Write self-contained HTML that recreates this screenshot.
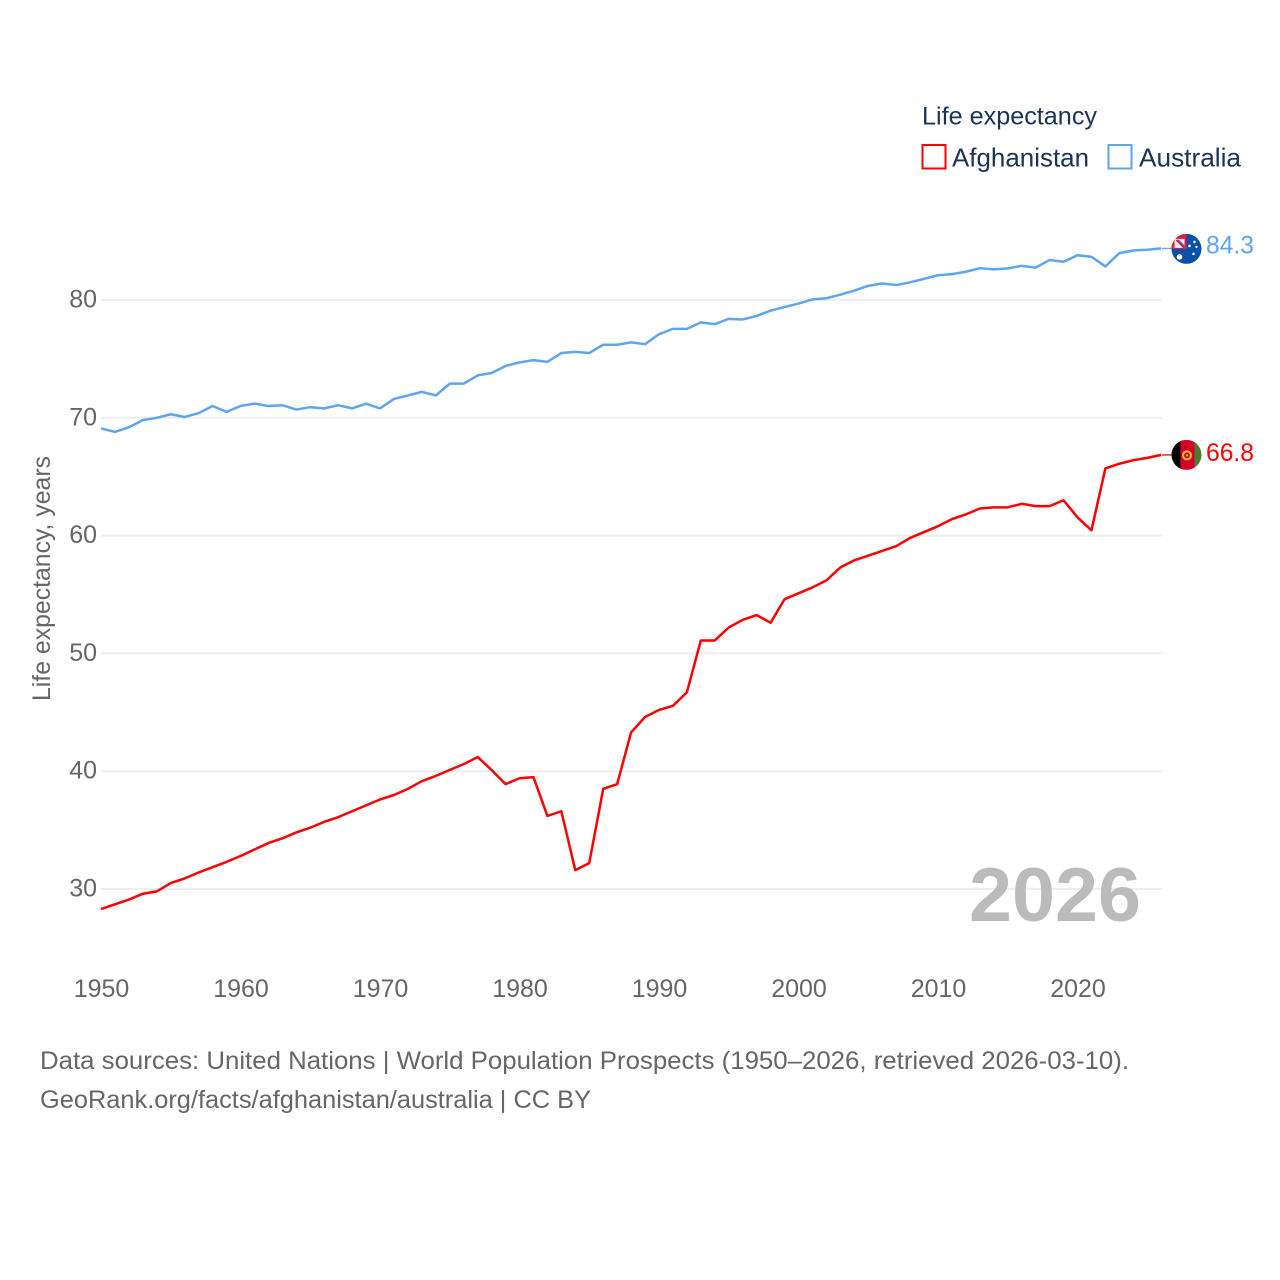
<!DOCTYPE html>
<html lang="en">
<head>
<meta charset="utf-8">
<title>Life expectancy: Afghanistan and Australia</title>
<style>
  html, body { margin: 0; padding: 0; background: #fff; }
  svg { display: block; font-family: "Liberation Sans", sans-serif; }
</style>
</head>
<body>
<svg id="chart" width="1280" height="1280" viewBox="0 0 1280 1280" xmlns="http://www.w3.org/2000/svg">
  <defs>
    <clipPath id="flag-clip"><circle cx="0" cy="0" r="15"></circle></clipPath>
  </defs>
  <rect width="1280" height="1280" fill="#fff"></rect>
  <g id="grid"></g>
  <g id="y-ticks"></g>
  <g id="x-ticks"></g>
  <text transform="translate(50 701) rotate(-90)" font-size="25" fill="#666" textLength="245" lengthAdjust="spacingAndGlyphs">Life expectancy, years</text>
  <text x="969" y="921" font-size="76" font-weight="700" fill="#bbbbbb" textLength="172" lengthAdjust="spacingAndGlyphs">2026</text>
  <g id="series"></g>

  <g id="flag-australia">
    <g clip-path="url(#flag-clip)">
      <rect x="-15" y="-15" width="30" height="30" fill="#0a4fa8"></rect>
      <rect x="-15" y="-15" width="15" height="15" fill="#e8173a"></rect>
      <rect x="-12" y="-10" width="10" height="9" fill="#f3f0f3"></rect>
      <path d="M-10 -9 L-2 -1" stroke="#d0203f" stroke-width="2.2"></path>
      <path d="M-8 -9 L-1 -2" stroke="#5b79b8" stroke-width="1.2"></path>
      <circle cx="-7" cy="8" r="2.8" fill="#fff"></circle>
      <circle cx="3" cy="-3" r="1.3" fill="#fff"></circle>
      <circle cx="8" cy="-7" r="1.3" fill="#fff"></circle>
      <circle cx="10" cy="-2" r="1.2" fill="#fff"></circle>
      <circle cx="7" cy="5" r="1.3" fill="#fff"></circle>
    </g>
  </g>
  <g id="flag-afghanistan">
    <g clip-path="url(#flag-clip)">
      <rect x="-15" y="-15" width="10" height="30" fill="#000"></rect>
      <rect x="-6" y="-15" width="14" height="30" fill="#d3002a"></rect>
      <rect x="8" y="-15" width="8" height="30" fill="#4b7b2f"></rect>
      <circle cx="0.5" cy="0.5" r="4" fill="none" stroke="#f0b429" stroke-width="2.2"></circle>
      <circle cx="0.5" cy="0.5" r="1.2" fill="#e9a12b"></circle>
    </g>
  </g>
  <g id="end-labels"></g>

  <g>
    <text x="922" y="124.5" font-size="25" fill="#1b3355" textLength="175" lengthAdjust="spacingAndGlyphs">Life expectancy</text>
    <g>
      <rect x="922.5" y="145" width="23" height="23.5" fill="#fff" stroke="#ff0000" stroke-width="2"></rect>
      <text x="952" y="166.5" font-size="26" fill="#1b3355" textLength="137" lengthAdjust="spacingAndGlyphs">Afghanistan</text>
    </g>
    <g>
      <rect x="1108.5" y="145" width="23" height="23.5" fill="#fff" stroke="#5da5ee" stroke-width="2"></rect>
      <text x="1139" y="166.5" font-size="26" fill="#1b3355" textLength="102" lengthAdjust="spacingAndGlyphs">Australia</text>
    </g>
  </g>

  <text x="40" y="1069" font-size="25" fill="#666" textLength="1089" lengthAdjust="spacingAndGlyphs">Data sources: United Nations | World Population Prospects (1950–2026, retrieved 2026-03-10).</text>
  <text x="40" y="1108" font-size="25" fill="#666" textLength="551" lengthAdjust="spacingAndGlyphs">GeoRank.org/facts/afghanistan/australia | CC BY</text>
</svg>
<script>
const firstYear = 1950;
const yTickValues = [30, 40, 50, 60, 70, 80];
const xTickValues = [1950, 1960, 1970, 1980, 1990, 2000, 2010, 2020];
const afghanistanValues = [
  28.3, 28.7, 29.1, 29.6, 29.8, 30.5, 30.9, 31.4, 31.85, 32.3,
  32.8, 33.35, 33.9, 34.3, 34.8, 35.2, 35.7, 36.1, 36.6, 37.1,
  37.6, 37.98, 38.5, 39.15, 39.6, 40.1, 40.6, 41.2, 40.1, 38.9,
  39.4, 39.5, 36.2, 36.6, 31.6, 32.2, 38.5, 38.9, 43.3, 44.6,
  45.2, 45.55, 46.7, 51.1, 51.1, 52.2, 52.85, 53.25, 52.6, 54.6,
  55.1, 55.6, 56.2, 57.3, 57.9, 58.3, 58.7, 59.1, 59.8, 60.3,
  60.8, 61.4, 61.8, 62.3, 62.4, 62.4, 62.7, 62.5, 62.5, 63.0,
  61.55, 60.45, 65.7, 66.1, 66.4, 66.6, 66.85
];
const australiaValues = [
  69.1, 68.8, 69.2, 69.8, 70.0, 70.3, 70.07, 70.4, 71.0, 70.5,
  71.0, 71.2, 71.0, 71.07, 70.7, 70.9, 70.8, 71.07, 70.8, 71.2,
  70.8, 71.6, 71.9, 72.2, 71.9, 72.9, 72.9, 73.6, 73.8, 74.4,
  74.7, 74.9, 74.75, 75.5, 75.6, 75.5, 76.2, 76.2, 76.4, 76.25,
  77.1, 77.55, 77.55, 78.1, 77.95, 78.4, 78.35, 78.65, 79.1, 79.4,
  79.7, 80.05, 80.15, 80.45, 80.8, 81.2, 81.4, 81.27, 81.5, 81.8,
  82.1, 82.2, 82.4, 82.7, 82.6, 82.68, 82.9, 82.75, 83.4, 83.25,
  83.8, 83.67, 82.85, 83.98, 84.2, 84.27, 84.38
];
const afghanistanLabel = "66.8";
const australiaLabel = "84.3";

const NS = "http://www.w3.org/2000/svg";
const RED = "#ff0000";
const BLUE = "#5da5ee";
const PLOT_RIGHT = 1162;
const LEADER_END = 1172;

function xScale(year) { return 101 + (year - firstYear) * 13.95; }
function yScale(value) { return 889 - (value - 30) * 11.78; }
function make(tag, parent) {
  const el = document.createElementNS(NS, tag);
  parent.appendChild(el);
  return el;
}

const gridGroup = document.getElementById("grid");
const yTickGroup = document.getElementById("y-ticks");
const xTickGroup = document.getElementById("x-ticks");
const seriesGroup = document.getElementById("series");
const labelGroup = document.getElementById("end-labels");

yTickValues.forEach(function (v) {
  const line = make("line", gridGroup);
  
  
  line.setAttribute("x1", 101);
  line.setAttribute("x2", PLOT_RIGHT);
  line.setAttribute("y1", yScale(v));
  line.setAttribute("y2", yScale(v));
  line.setAttribute("stroke", "#eeeeee");
  line.setAttribute("stroke-width", 2);

  const label = make("text", yTickGroup);
  
  
  label.setAttribute("x", 97);
  label.setAttribute("y", yScale(v) + 7.5);
  label.setAttribute("text-anchor", "end");
  label.setAttribute("font-size", 25);
  label.setAttribute("fill", "#666");
  label.textContent = String(v);
});

xTickValues.forEach(function (year) {
  const label = make("text", xTickGroup);
  
  
  label.setAttribute("x", xScale(year) + 0.5);
  label.setAttribute("y", 997);
  label.setAttribute("text-anchor", "middle");
  label.setAttribute("font-size", 25);
  label.setAttribute("fill", "#666");
  label.textContent = String(year);
});

function linePoints(values) {
  return values.map(function (v, i) {
    return xScale(firstYear + i).toFixed(2) + "," + yScale(v).toFixed(2);
  }).join(" ");
}

const afghanistanLine = make("polyline", seriesGroup);


afghanistanLine.setAttribute("points", linePoints(afghanistanValues));
afghanistanLine.setAttribute("fill", "none");
afghanistanLine.setAttribute("stroke", RED);
afghanistanLine.setAttribute("stroke-width", 2.5);
afghanistanLine.setAttribute("stroke-linejoin", "round");

const australiaLine = make("polyline", seriesGroup);


australiaLine.setAttribute("points", linePoints(australiaValues));
australiaLine.setAttribute("fill", "none");
australiaLine.setAttribute("stroke", BLUE);
australiaLine.setAttribute("stroke-width", 2.5);
australiaLine.setAttribute("stroke-linejoin", "round");

const afghanistanEnd = yScale(afghanistanValues[afghanistanValues.length - 1]);
const australiaEnd = yScale(australiaValues[australiaValues.length - 1]);

const afghanistanLeader = make("line", seriesGroup);


afghanistanLeader.setAttribute("x1", PLOT_RIGHT);
afghanistanLeader.setAttribute("x2", LEADER_END);
afghanistanLeader.setAttribute("y1", afghanistanEnd);
afghanistanLeader.setAttribute("y2", afghanistanEnd);
afghanistanLeader.setAttribute("stroke", RED);
afghanistanLeader.setAttribute("stroke-width", 1.3);

const australiaLeader = make("line", seriesGroup);


australiaLeader.setAttribute("x1", PLOT_RIGHT);
australiaLeader.setAttribute("x2", LEADER_END);
australiaLeader.setAttribute("y1", australiaEnd);
australiaLeader.setAttribute("y2", australiaEnd);
australiaLeader.setAttribute("stroke", BLUE);
australiaLeader.setAttribute("stroke-width", 1.3);

document.getElementById("flag-afghanistan").setAttribute("transform", "translate(1186.5 " + afghanistanEnd + ")");
document.getElementById("flag-australia").setAttribute("transform", "translate(1186.5 " + (australiaEnd + 0.5) + ")");

const afghanistanText = make("text", labelGroup);


afghanistanText.setAttribute("x", 1206);
afghanistanText.setAttribute("y", afghanistanEnd + 6);
afghanistanText.setAttribute("font-size", 25);
afghanistanText.setAttribute("fill", RED);
afghanistanText.setAttribute("textLength", 48);
afghanistanText.setAttribute("lengthAdjust", "spacingAndGlyphs");
afghanistanText.textContent = afghanistanLabel;

const australiaText = make("text", labelGroup);


australiaText.setAttribute("x", 1206);
australiaText.setAttribute("y", australiaEnd + 5.2);
australiaText.setAttribute("font-size", 25);
australiaText.setAttribute("fill", BLUE);
australiaText.setAttribute("textLength", 48);
australiaText.setAttribute("lengthAdjust", "spacingAndGlyphs");
australiaText.textContent = australiaLabel;
</script>
</body>
</html>
